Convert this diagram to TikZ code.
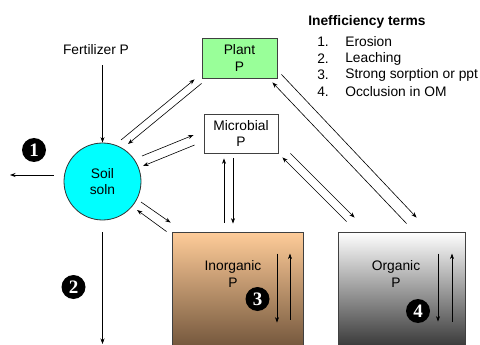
\documentclass[tikz,border=0pt]{standalone}
\usepackage{fontspec}
\setmainfont{Liberation Sans}
\newfontfamily\numfont{Liberation Serif}
\usepackage{tikz}
\usetikzlibrary{shapes,positioning,arrows.meta}
\definecolor{plantgreen}{RGB}{153,255,153}
\definecolor{soilblue}{RGB}{0,255,255}
\definecolor{peach}{RGB}{255,204,153}
\definecolor{mud}{RGB}{112,84,58}
\tikzset{txt/.style={inner sep=0pt},
  pool/.style={rectangle,draw=black!75,line width=0.8pt,align=center,inner sep=0pt},
  soilc/.style={circle,draw=black!80,line width=0.8pt,fill=soilblue,minimum size=77pt,inner sep=0pt,align=center},
  num/.style={circle,fill=black,text=white,minimum size=24pt,inner sep=0pt,font=\numfont\bfseries\fontsize{19}{19}\selectfont}}

\begin{document}
\begin{tikzpicture}[x=1pt,y=-1pt,>={Stealth[length=5.5pt,width=4pt]},line width=0.6pt,
    font=\fontsize{13.8}{16.6}\selectfont]
        \clip (0,0) rectangle (480,345);

        \node[txt] (fert) at (96,50) {Fertilizer P};
        \node[soilc] (soil) at (102.5,181.5) {Soil\\soln};
        \node[pool,fill=plantgreen,minimum width=75pt,minimum height=40pt] (plant) at (239.5,58) {Plant\\P};
        \node[pool,fill=white,minimum width=74pt,minimum height=39pt] (micro) at (241,133.5) {Microbial\\P};
        \node[pool,top color=peach,bottom color=mud,minimum width=131pt,minimum height=118pt] (inorg) at (237.5,291) {};
        \node[pool,top color=white,bottom color=black!80,minimum width=127pt,minimum height=118pt] (org) at (401.5,291) {};
        \node[txt,align=center] (inorglbl) at (233,274) {Inorganic\\P};
        \node[txt,align=center] (orglbl) at (396,274) {Organic\\P};

        \node[num] (n1) at (34,150) {1};
        \node[num] (n2) at (73.5,287) {2};
        \node[num] (n3) at (257.5,299) {3};
        \node[num] (n4) at (418,311) {4};

        \coordinate (eros) at (10,175);
        \coordinate (leach) at (102.5,344);

        % inputs and losses
        \draw [->,shorten <=10pt] (fert.south -| soil.north) -- (soil.north);
        \draw [->,shorten <=10pt] (soil.west |- eros) -- (eros);
        \draw [->,shorten <=12pt] (soil.south) -- (leach);

        % exchanges between pools
        \draw [->] ([shift={(18.5,-41.5)}]soil.center) -- ([shift={(-7,1)}]plant.south west);
        \draw [->] ([shift={(0,5)}]plant.south west) -- ([shift={(25.5,-37.5)}]soil.center);
        \draw [->] ([shift={(39.5,-25.5)}]soil.center) -- ([shift={(-10,1.5)}]micro.west);
        \draw [->] ([shift={(-9,11.5)}]micro.west) -- ([shift={(40.5,-15.5)}]soil.center);
        \draw [->] ([shift={(38.5,20.5)}]soil.center) -- ([shift={(-1,-9)}]inorg.north west);
        \draw [->] ([shift={(-5,0)}]inorg.north west) -- ([shift={(34.5,28.5)}]soil.center);
        \draw [->] ([shift={(-13.5,-9)}]inorg.north) -- ([shift={(-17,5)}]micro.south);
        \draw [->] ([shift={(-8,5)}]micro.south) -- ([shift={(-4.5,-8)}]inorg.north);
        \draw [->] ([shift={(9,-10)}]org.north west) -- ([shift={(4,4)}]micro.south east);
        \draw [->] ([shift={(12,0)}]micro.south east) -- ([shift={(17,-14)}]org.north west);
        \draw [->] ([shift={(69,-8)}]org.north west) -- ([shift={(-5,4)}]plant.south east);
        \draw [->] ([shift={(4,-4)}]plant.south east) -- ([shift={(79,-14)}]org.north west);

        % sorption and occlusion inside the pools
        \draw [->] ([shift={(39.5,22)}]inorg.north) -- ([shift={(39.5,91)}]inorg.north);
        \draw [->] ([shift={(52.5,88)}]inorg.north) -- ([shift={(52.5,22)}]inorg.north);
        \draw [->] ([shift={(36.5,22)}]org.north) -- ([shift={(36.5,90)}]org.north);
        \draw [->] ([shift={(50.5,90)}]org.north) -- ([shift={(50.5,22)}]org.north);

        % legend
        \node[txt,anchor=west,font=\bfseries\fontsize{13.8}{16.6}\selectfont] (legtitle) at (308,22) {Inefficiency terms};
        \node[txt,anchor=west] (i1) at (317,42) {1.};
        \node[txt,anchor=west] (t1) at (345,42) {Erosion};
        \node[txt,anchor=west] (i2) at (317,58.5) {2.};
        \node[txt,anchor=west] (t2) at (345,58.5) {Leaching};
        \node[txt,anchor=west] (i3) at (317,75) {3.};
        \node[txt,anchor=west] (t3) at (345,75) {Strong sorption or ppt};
        \node[txt,anchor=west] (i4) at (317,91.5) {4.};
        \node[txt,anchor=west] (t4) at (345,91.5) {Occlusion in OM};
    \end{tikzpicture}
\end{document}
